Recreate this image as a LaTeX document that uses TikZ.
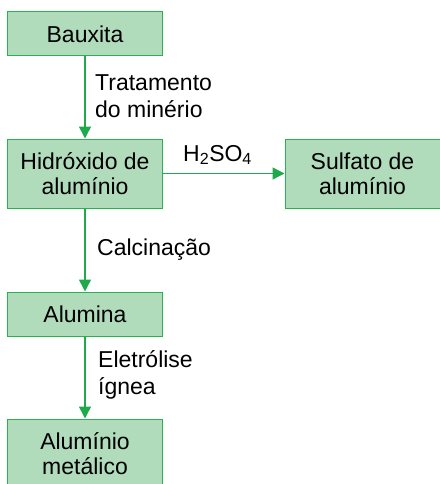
\documentclass[tikz,border=0pt]{standalone}
\usepackage{fontspec}
\setmainfont{Liberation Sans}
\usetikzlibrary{arrows.meta}
\definecolor{boxfill}{RGB}{176,220,188}
\definecolor{boxline}{RGB}{40,178,80}
\definecolor{arrowc}{RGB}{30,170,75}
\begin{document}
\begin{tikzpicture}[x=1pt,y=-1pt,
  stagebox/.style={draw=boxline,fill=boxfill,line width=1pt,minimum width=155pt,inner sep=0pt,align=center,
    font=\fontsize{23}{25}\selectfont},
  flow/.style={draw=arrowc,line width=1.5pt,-{Triangle[width=12pt,length=12pt]}},
  lbl/.style={align=left,anchor=west,inner sep=0pt,font=\fontsize{23}{27}\selectfont}]
\useasboundingbox (0,0) rectangle (439,484);
\node[stagebox,minimum height=44pt] (bau) at (85,34) {Bauxita};
\node[stagebox,minimum height=69pt] (hid) at (85,173.5) {Hidróxido de\\alumínio};
\node[stagebox,minimum height=69pt] (sul) at (362.5,173.5) {Sulfato de\\alumínio};
\node[stagebox,minimum height=44pt] (alu) at (85,314) {Alumina};
\node[stagebox,minimum height=69pt] (met) at (85,453.5) {Alumínio\\metálico};
\draw[flow] (bau) -- (hid);
\draw[flow] (hid) -- (sul);
\draw[flow] (hid) -- (alu);
\draw[flow] (alu) -- (met);
\node[lbl] (t1) at (95,96.5) {Tratamento\\do minério};
\node[lbl] (t2) at (183,155) {H\textsubscript{2}SO\textsubscript{4}};
\node[lbl] (t3) at (97,250) {Calcinação};
\node[lbl] (t4) at (98,375) {Eletrólise\\ígnea};
\end{tikzpicture}
\end{document}
